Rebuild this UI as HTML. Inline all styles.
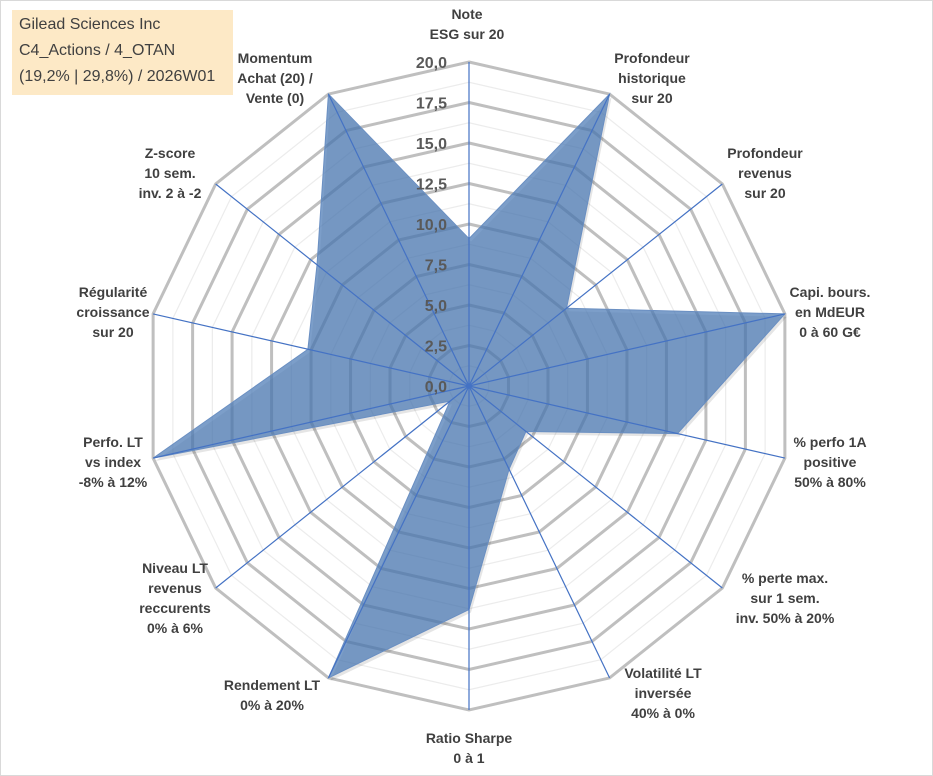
<!DOCTYPE html>
<html><head><meta charset="utf-8">
<style>
html,body{margin:0;padding:0;background:#fff;}
svg{display:block;}
.lbl{font-family:"Liberation Sans",sans-serif;font-weight:bold;font-size:14px;fill:#404040;text-anchor:middle;}
.tick{font-family:"Liberation Sans",sans-serif;font-weight:bold;font-size:16px;fill:#595959;text-anchor:end;}
.ttl{font-family:"Liberation Sans",sans-serif;font-size:16px;fill:#404040;}
</style></head>
<body>
<svg id="chart" width="933" height="776" viewBox="0 0 933 776">
<rect x="0.5" y="0.5" width="932" height="775" fill="#fff" stroke="#d9d9d9"/>
<g id="grid"></g>
<g id="series"></g>
<g id="spokes"></g>
<g id="ticks"></g>
<g id="labels"></g>
<g>
<rect x="12" y="10" width="221" height="85" fill="#fde9c6"/>
<text class="ttl" x="19" y="29">Gilead Sciences Inc</text>
<text class="ttl" x="19" y="55">C4_Actions / 4_OTAN</text>
<text class="ttl" x="19" y="81">(19,2% | 29,8%) / 2026W01</text>
</g>
</svg>
<script>
const categories = [
 ["Note","ESG sur 20"],
 ["Profondeur","historique","sur 20"],
 ["Profondeur","revenus","sur 20"],
 ["Capi. bours.","en MdEUR","0 à 60 G€"],
 ["% perfo 1A","positive","50% à 80%"],
 ["% perte max.","sur 1 sem.","inv. 50% à 20%"],
 ["Volatilité LT","inversée","40% à 0%"],
 ["Ratio Sharpe","0 à 1"],
 ["Rendement LT","0% à 20%"],
 ["Niveau LT","revenus","reccurents","0% à 6%"],
 ["Perfo. LT","vs index","-8% à 12%"],
 ["Régularité","croissance","sur 20"],
 ["Z-score","10 sem.","inv. 2 à -2"],
 ["Momentum","Achat (20) /","Vente (0)"]
];
const values = [9.1, 20, 7.7, 20, 13.2, 4.5, 5.7, 13.8, 20, 1.5, 20, 10.2, 12, 20];
const tickLabels = ["0,0","2,5","5,0","7,5","10,0","12,5","15,0","17,5","20,0"];
const maxVal = 20;
const labelPos = [[467,14],[652,58],[765,153],[830,292],[830,442],[785,578],[663,673],[469,738],[272,685],[175,568],[113,442],[113,292],[170,153],[275,58]];

const NS="http://www.w3.org/2000/svg";
const cx=469, cy=386, R=324, N=categories.length;
function ang(i){return i*2*Math.PI/N;}
function pt(i,v){const r=v/maxVal*R;return [cx+r*Math.sin(ang(i)), cy-r*Math.cos(ang(i))];}
function mk(tag,attrs,parent){const e=document.createElementNS(NS,tag);for(const k in attrs)e.setAttribute(k,attrs[k]);parent.appendChild(e);return e;}

const grid=document.getElementById('grid');
for(let s=1;s<=16;s++){
  const v=s*1.25, major=(s%2===0);
  const pts=[];for(let i=0;i<N;i++)pts.push(pt(i,v).join(','));
  const p=mk('polygon',{points:pts.join(' '),fill:'none',stroke:major?'#bfbfbf':'#ececec','stroke-width':major?3:1.2},grid);
  
  
}
const ser=document.getElementById('series');
const sp=values.map((v,i)=>pt(i,v).join(',')).join(' ');
const shadow=mk('polygon',{points:sp,fill:'#000',opacity:0.1,transform:'translate(2,3)'},ser);


const area=mk('polygon',{points:sp,fill:'#4a78b4','fill-opacity':0.72,stroke:'#6a8fc2','stroke-width':1},ser);



const spokes=document.getElementById('spokes');
for(let i=0;i<N;i++){
  const [x,y]=pt(i,maxVal);
  const l=mk('line',{x1:cx,y1:cy,x2:x,y2:y,stroke:'#4472c4','stroke-width':1.2},spokes);
  
  
}
mk('circle',{cx:cx,cy:cy,r:2.5,fill:'#4472c4'},spokes);

const ticks=document.getElementById('ticks');
tickLabels.forEach((t,k)=>{
  const v=k*2.5;const y=cy-v/maxVal*R;
  const tx=mk('text',{class:'tick',x:447,y:y+6},ticks);
  tx.textContent=t;
  
  
});

const labels=document.getElementById('labels');
categories.forEach((c,i)=>{
  const [x,y]=labelPos[i];
  const t=mk('text',{class:'lbl',x:x,y:y+5},labels);
  
  
  c.forEach((line,j)=>{const ts=mk('tspan',{x:x,y:y+5+j*20},t);ts.textContent=line;});
});
</script>
</body></html>
